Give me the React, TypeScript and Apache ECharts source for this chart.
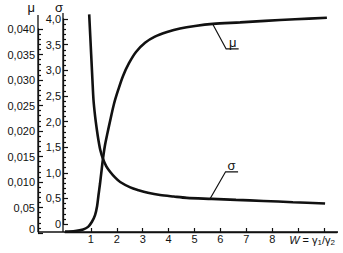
import React, { useEffect, useRef } from 'react';
import * as echarts from 'echarts';

// ---- data ----
const xTickValues = [1, 2, 3, 4, 5, 6, 7, 8, 9, 10];
const xLabelValues = [1, 2, 3, 4, 5, 6, 7, 8];

const sigmaTickValues = [0, 0.5, 1, 1.5, 2, 2.5, 3, 3.5, 4];
const sigmaTickLabels = ['0', '0,5', '1,0', '1,5', '2,0', '2,5', '3,0', '3,5', '4,0'];

const muTickValues = [0, 0.005, 0.01, 0.015, 0.02, 0.025, 0.03, 0.035, 0.04];
const muTickLabels = ['0', '0,05', '0,010', '0,015', '0,020', '0,025', '0,030', '0,035', '0,040'];

const sigmaX = [0.934, 1.01, 1.06, 1.1, 1.165, 1.23, 1.29, 1.36, 1.46, 1.59, 1.74, 1.93, 2.13, 2.52, 2.84, 3.2, 3.67, 4.2, 4.7, 5.67, 6.6, 7.66, 8.8, 10.04];
const sigmaY = [4.09, 3.31, 2.8, 2.42, 2.09, 1.84, 1.64, 1.45, 1.28, 1.13, 1.02, 0.91, 0.82, 0.715, 0.66, 0.61, 0.565, 0.535, 0.51, 0.49, 0.47, 0.45, 0.425, 0.4];

const muX = [0, 0.39, 0.7, 0.89, 1.04, 1.16, 1.24, 1.29, 1.35, 1.41, 1.47, 1.54, 1.64, 1.76, 1.89, 2.05, 2.24, 2.47, 2.74, 3.09, 3.47, 3.94, 4.44, 5.02, 5.71, 6.76, 7.72, 8.88, 10.11];
const muY = [0.0003, 0.0004, 0.0007, 0.0012, 0.0022, 0.0035, 0.0053, 0.0073, 0.0096, 0.0122, 0.0147, 0.0171, 0.0196, 0.0224, 0.0253, 0.028, 0.0308, 0.0333, 0.0355, 0.0373, 0.0385, 0.0394, 0.0401, 0.0406, 0.041, 0.0413, 0.0416, 0.0419, 0.0422];

const sigmaLabelAt = 5.6;
const muLabelAt = 5.7;

const FONT = '"Liberation Sans", Arial, Helvetica, sans-serif';
const INK = '#111';

function interp(xs: number[], ys: number[], x: number): number {
  for (let i = 0; i < xs.length - 1; i++) {
    if (x >= xs[i] && x <= xs[i + 1]) {
      const t = (x - xs[i]) / (xs[i + 1] - xs[i]);
      return ys[i] + t * (ys[i + 1] - ys[i]);
    }
  }
  return ys[ys.length - 1];
}

function lookup(values: number[], labels: string[], v: number): string {
  for (let i = 0; i < values.length; i++) {
    if (Math.abs(values[i] - v) < 1e-9) return labels[i];
  }
  return '';
}

export default function App() {
  const ref = useRef<HTMLDivElement>(null);

  useEffect(() => {
    if (!ref.current) return;
    const chart = echarts.init(ref.current, undefined, { renderer: 'svg' });

    const tickStyle = { color: INK, width: 1.2 };

    chart.setOption({
      animation: false,
      backgroundColor: '#fff',
      textStyle: { fontFamily: FONT, color: INK },
      grid: [
        { left: 65, top: 19, width: 272, height: 205 },
        { left: 65, top: 29, width: 272, height: 204 },
      ],
      xAxis: [
        {
          type: 'value',
          gridIndex: 0,
          min: 0,
          max: 10.5,
          interval: 1,
          offset: 8,
          splitLine: { show: false },
          axisLine: { show: true, onZero: false, lineStyle: { color: INK, width: 1.3 } },
          axisTick: { show: true, inside: true, length: 4, lineStyle: tickStyle, customValues: xTickValues },
          axisLabel: {
            show: true,
            margin: 1,
            fontSize: 11,
            fontFamily: FONT,
            color: INK,
            customValues: xLabelValues,
            formatter: (v: number) => String(v),
          },
          name: '{w|W}{n| = γ}{s|1}{n|/γ}{s|2}',
          nameLocation: 'end',
          nameGap: -2,
          nameTextStyle: {
            align: 'right',
            verticalAlign: 'top',
            padding: [1, 0, 0, 0],
            rich: {
              w: { fontFamily: FONT, fontSize: 11, fontStyle: 'italic', color: INK },
              n: { fontFamily: FONT, fontSize: 11, color: INK },
              s: { fontFamily: FONT, fontSize: 8, color: INK, padding: [5, 0, 0, 0] },
            },
          },
        },
        {
          type: 'value',
          gridIndex: 1,
          min: 0,
          max: 10.5,
          show: false,
        },
      ],
      yAxis: [
        {
          type: 'value',
          gridIndex: 0,
          min: 0,
          max: 4,
          interval: 0.5,
          offset: 2,
          splitLine: { show: false },
          axisLine: { show: true, onZero: false, lineStyle: { color: INK, width: 1.3 } },
          axisTick: { show: true, inside: true, length: 5, lineStyle: tickStyle },
          minorTick: { show: true, splitNumber: 5, length: 3, lineStyle: tickStyle },
          axisLabel: {
            margin: 2,
            fontSize: 11,
            fontFamily: FONT,
            color: INK,
            formatter: (v: number) => lookup(sigmaTickValues, sigmaTickLabels, v),
          },
          name: 'σ',
          nameLocation: 'end',
          nameGap: 5,
          nameTextStyle: { fontSize: 13, fontFamily: FONT, color: INK, align: 'right', padding: [0, 0, 0, 0] },
        },
        {
          type: 'value',
          gridIndex: 1,
          min: 0,
          max: 0.04,
          interval: 0.005,
          offset: 27,
          splitLine: { show: false },
          axisLine: { show: true, onZero: false, lineStyle: { color: INK, width: 1.3 } },
          axisTick: { show: true, inside: true, length: 5, lineStyle: tickStyle },
          minorTick: { show: true, splitNumber: 5, length: 3, lineStyle: tickStyle },
          axisLabel: {
            margin: 3,
            fontSize: 11,
            fontFamily: FONT,
            color: INK,
            formatter: (v: number) => {
              const s = lookup(muTickValues, muTickLabels, v);
              return v === 0 ? '{z|' + s + '}' : s;
            },
            rich: { z: { fontSize: 11, fontFamily: FONT, color: INK, padding: [0, 0, 9, 0] } },
          },
          name: 'μ',
          nameLocation: 'end',
          nameGap: 15,
          nameTextStyle: { fontSize: 13, fontFamily: FONT, color: INK, align: 'right', padding: [0, 3, 0, 0] },
        },
      ],
      series: [
        {
          type: 'line',
          name: 'σ',
          xAxisIndex: 0,
          yAxisIndex: 0,
          data: sigmaX.map((x, i) => [x, sigmaY[i]]),
          showSymbol: false,
          smooth: 0.3,
          clip: false,
          lineStyle: { color: INK, width: 2.6 },
        },
        {
          type: 'line',
          name: 'μ',
          xAxisIndex: 1,
          yAxisIndex: 1,
          data: muX.map((x, i) => [x, muY[i]]),
          showSymbol: false,
          smooth: 0.3,
          clip: false,
          lineStyle: { color: INK, width: 2.6 },
        },
      ],
    });

    // leader lines and curve names, anchored on the curves
    const sp = chart.convertToPixel({ xAxisIndex: 0, yAxisIndex: 0 }, [sigmaLabelAt, interp(sigmaX, sigmaY, sigmaLabelAt)]) as number[];
    const mp = chart.convertToPixel({ xAxisIndex: 1, yAxisIndex: 1 }, [muLabelAt, interp(muX, muY, muLabelAt)]) as number[];
    const lineStyle = { stroke: INK, lineWidth: 1.2, fill: 'none' };

    chart.setOption({
      graphic: [
        // axis extensions
        { type: 'line', shape: { x1: 63, y1: 13, x2: 63, y2: 232 }, style: { stroke: INK, lineWidth: 1.3 } },
        { type: 'line', shape: { x1: 38, y1: 15, x2: 38, y2: 232 }, style: { stroke: INK, lineWidth: 1.3 } },
        { type: 'line', shape: { x1: 38, y1: 232, x2: 338, y2: 232 }, style: { stroke: INK, lineWidth: 1.3 } },
        {
          type: 'polyline',
          shape: { points: [[sp[0], sp[1]], [sp[0] + 15.5, sp[1] - 27], [sp[0] + 28, sp[1] - 27]] },
          style: lineStyle,
        },
        {
          type: 'text',
          x: sp[0] + 21.5,
          y: sp[1] - 33.5,
          style: { text: 'σ', font: '13px ' + FONT, fill: INK, align: 'center', verticalAlign: 'middle' },
        },
        {
          type: 'polyline',
          shape: { points: [[mp[0], mp[1]], [mp[0] + 13.5, mp[1] + 25], [mp[0] + 26, mp[1] + 25]] },
          style: lineStyle,
        },
        {
          type: 'text',
          x: mp[0] + 20,
          y: mp[1] + 18.5,
          style: { text: 'μ', font: '13px ' + FONT, fill: INK, align: 'center', verticalAlign: 'middle' },
        },
      ],
    });

    return () => chart.dispose();
  }, []);

  return (
    <div
      ref={ref}
      style={{ position: 'fixed', left: 0, top: 0, width: 343, height: 253, background: '#fff' }}
    />
  );
}
